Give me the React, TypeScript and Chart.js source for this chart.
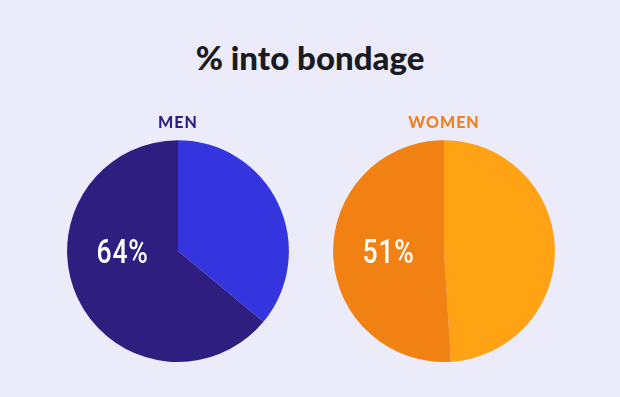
import React, { useEffect, useRef } from "react";
import { Chart, registerables } from "chart.js";

Chart.register(...registerables);

const mainTitle = "% into bondage";
const groups = ["MEN", "WOMEN"];
const sliceLabels = ["Other", "Into bondage"];
const menValues = [36, 64];
const womenValues = [49, 51];
const menColors = ["#3535e0", "#2e1e80"];
const womenColors = ["#ffa213", "#f28113"];
const groupTitleColors = ["#2e1e80", "#f08020"];

const pctLabelPlugin = {
  id: "pctLabel",
  afterDatasetsDraw(chart: any) {
    const meta = chart.getDatasetMeta(0);
    const arc = meta.data[1];
    if (!arc) return;
    const { x, y, outerRadius } = arc.getProps(["x", "y", "outerRadius"], true);
    const v = chart.data.datasets[0].data[1];
    const ctx = chart.ctx;
    const sx = 0.78;
    ctx.save();
    ctx.fillStyle = "#ffffff";
    ctx.font = "500 34px Roboto, sans-serif";
    ctx.textAlign = "center";
    ctx.textBaseline = "middle";
    ctx.translate(x - outerRadius * 0.5, y + 3);
    ctx.scale(sx, 1);
    ctx.fillText(v + "%", 0, 0);
    ctx.restore();
  },
};

function PieChart(props: { title: string; values: number[]; colors: string[]; titleColor: string; left: number }) {
  const ref = useRef<HTMLCanvasElement | null>(null);
  useEffect(() => {
    if (!ref.current) return;
    const chart = new Chart(ref.current, {
      type: "pie",
      data: {
        labels: sliceLabels,
        datasets: [{ data: props.values, backgroundColor: props.colors, borderWidth: 0 }],
      },
      options: {
        animation: false,
        responsive: false,
        maintainAspectRatio: false,
        layout: { padding: 0 },
        plugins: {
          legend: { display: false },
          tooltip: { enabled: false },
          title: {
            display: true,
            text: props.title,
            color: props.titleColor,
            font: { family: "Lato, 'Open Sans', sans-serif", size: 16, weight: "900" as any, lineHeight: 1.2 },
            padding: { top: 5, bottom: 8 },
          },
        },
      },
      plugins: [pctLabelPlugin],
    });
    return () => chart.destroy();
  }, []);
  return (
    <canvas
      ref={ref}
      width={224}
      height={254}
      style={{ position: "absolute", left: props.left, top: 108, width: 224, height: 254, letterSpacing: "1px" }}
    />
  );
}

export default function App() {
  return (
    <div
      style={{
        position: "fixed",
        left: 0,
        top: 0,
        width: 620,
        height: 397,
        background: "#ebebf9",
        overflow: "hidden",
      }}
    >
      <div
        style={{
          position: "absolute",
          left: 0,
          top: 37,
          width: 620,
          textAlign: "center",
          fontFamily: "Lato, 'Open Sans', sans-serif",
          fontWeight: 900,
          fontSize: 33,
          lineHeight: "40px",
          color: "#1b1b1f",
        }}
      >
        {mainTitle}
      </div>
      <PieChart title={groups[0]} values={menValues} colors={menColors} titleColor={groupTitleColors[0]} left={66} />
      <PieChart title={groups[1]} values={womenValues} colors={womenColors} titleColor={groupTitleColors[1]} left={332} />
    </div>
  );
}
